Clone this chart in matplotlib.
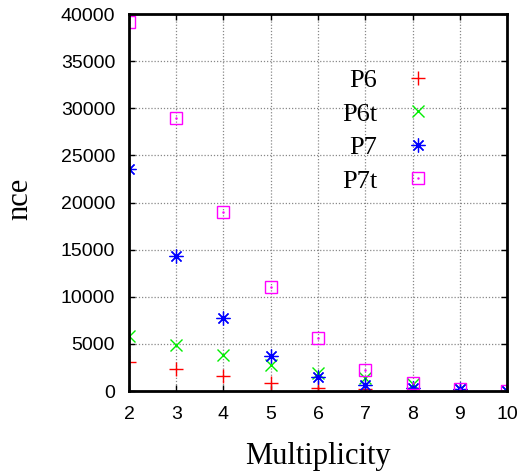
import matplotlib
matplotlib.use('Agg')
from matplotlib import pyplot as plt
from matplotlib.legend_handler import HandlerTuple
import numpy as np

multiplicity = [2, 3, 4, 5, 6, 7, 8, 9, 10]
p6 = [3100, 2300, 1590, 810, 300, 180, 50, 20, 10]
p6t = [5800, 4900, 3820, 2730, 1940, 1330, 700, 180, 30]
p7 = [23600, 14360, 7710, 3750, 1520, 620, 290, 170, 30]
p7t = [39200, 29000, 18990, 11070, 5590, 2230, 800, 170, 30]

sans = 'Liberation Sans'
serif = 'Liberation Serif'

fig = plt.figure(figsize=(5.22, 4.75), dpi=100)
ax = fig.add_axes([0.2471, 0.1768, 0.7242, 0.7937])

h1, = ax.plot(multiplicity, p6, ls='none', marker='+', ms=10, mew=1, color='#ff0000')
h2, = ax.plot(multiplicity, p6t, ls='none', marker='x', ms=8, mew=1, color='#00ee00')
h3, = ax.plot(multiplicity, p7, ls='none', marker=(8, 2, 0), ms=10, mew=0.9, color='#0000ff')
h4, = ax.plot(multiplicity, p7t, ls='none', marker='s', ms=8, mew=1, color='#ff00ff', mfc='none')
h4d, = ax.plot(multiplicity, p7t, ls='none', marker='.', ms=1.5, color='#ff00ff')

ax.set_xlim(2, 10)
ax.set_ylim(0, 40000)
ax.set_xticks(multiplicity)
ax.set_yticks(np.arange(0, 40001, 5000))
ax.grid(True, color='#888888', ls=(0, (1, 1.5)), lw=0.9)

for s in ax.spines.values():
    s.set_linewidth(2)
ax.tick_params(direction='in', length=4, width=1, top=True, right=True)
ax.tick_params(axis='x', pad=11)
ax.tick_params(axis='y', pad=10)
for lab in ax.get_xticklabels() + ax.get_yticklabels():
    lab.set_fontfamily(sans)
    lab.set_fontsize(14)

ax.set_xlabel('Multiplicity', fontfamily=serif, fontsize=22)
ax.set_ylabel('nce', fontfamily=serif, fontsize=22)
ax.xaxis.set_label_coords(0.5, -0.135)
ax.yaxis.set_label_coords(-0.25, 0.51)

ax.legend([h1, h2, h3, (h4, h4d)], ['P6', 'P6t', 'P7', 'P7t'],
          handler_map={tuple: HandlerTuple(ndivide=1)},
          loc='upper right', bbox_to_anchor=(0.80, 0.855), frameon=False,
          markerfirst=False, handlelength=1.0, handletextpad=1.05,
          labelspacing=0.38, borderpad=0, borderaxespad=0,
          prop={'family': serif, 'size': 19})

fig.savefig('out.png', dpi=100)
